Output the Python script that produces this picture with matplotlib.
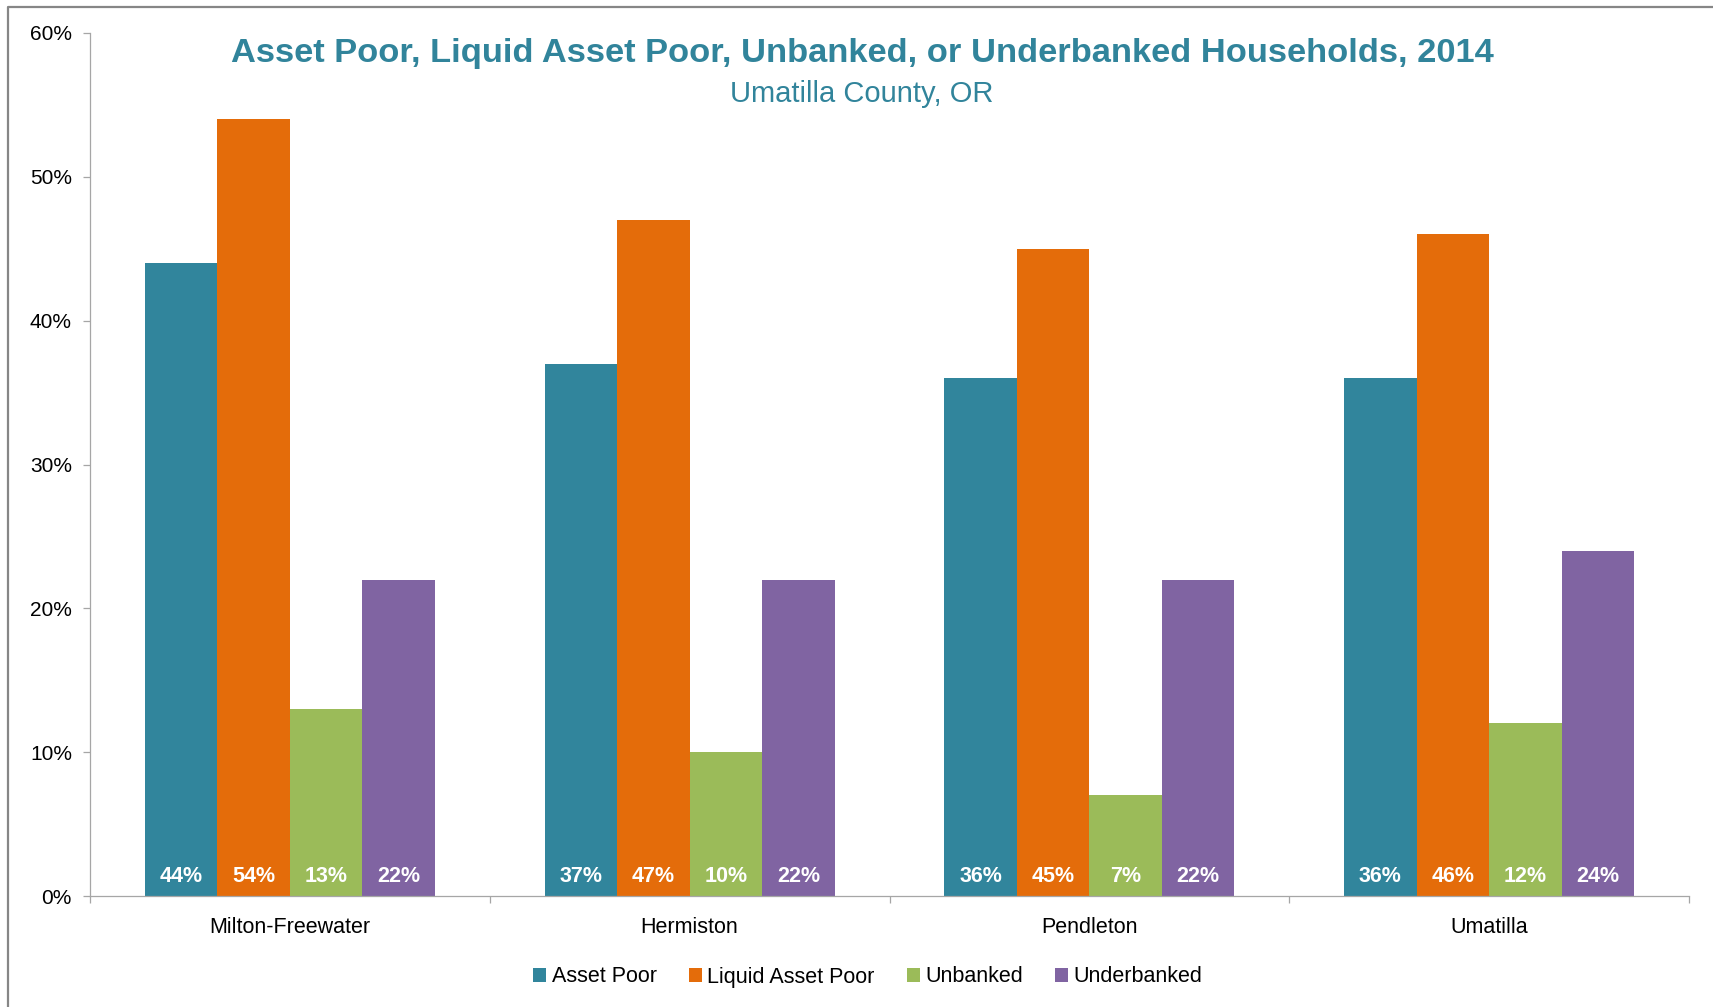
import matplotlib
matplotlib.use("Agg")
import matplotlib.pyplot as plt
from matplotlib.lines import Line2D
from matplotlib.ticker import FixedLocator, PercentFormatter
import numpy as np

# chart data
places = ["Milton-Freewater", "Hermiston", "Pendleton", "Umatilla"]
series = ["Asset Poor", "Liquid Asset Poor", "Unbanked", "Underbanked"]
asset_poor = [44, 37, 36, 36]
liquid_asset_poor = [54, 47, 45, 46]
unbanked = [13, 10, 7, 12]
underbanked = [22, 22, 22, 24]
y_ticks = [0, 10, 20, 30, 40, 50, 60]

title = "Asset Poor, Liquid Asset Poor, Unbanked, or Underbanked Households, 2014"
subtitle = "Umatilla County, OR"

colors = ["#31859C", "#E46C0A", "#9BBB59", "#8064A2"]
title_color = "#31849B"
axis_gray = "#A6A6A6"

plt.rcParams["font.family"] = ["Liberation Sans", "DejaVu Sans"]

W, H = 1713, 1007
fig = plt.figure(figsize=(W / 100, H / 100), dpi=100)
ax = fig.add_axes([90 / W, 1 - 896 / H, (1689 - 90) / W, (896 - 33) / H])

values = [asset_poor, liquid_asset_poor, unbanked, underbanked]
x = np.arange(len(places))
bar_w = 0.1814

for j, (name, vals) in enumerate(zip(series, values)):
    pos = x + (j - 1.5) * bar_w
    ax.bar(pos, vals, width=bar_w, color=colors[j], label=name, linewidth=0)
    for px, v in zip(pos, vals):
        ax.annotate(f"{v}%", (px, 0), xytext=(0, 10), textcoords="offset points",
                    ha="center", va="baseline", color="white",
                    fontsize=15.5, fontweight="bold")

ax.set_xlim(-0.5, len(places) - 0.5)
ax.set_ylim(0, 60)
ax.yaxis.set_major_locator(FixedLocator(y_ticks))
ax.yaxis.set_major_formatter(PercentFormatter(decimals=0))

# category boundary ticks, labels at the centres
ax.xaxis.set_major_locator(FixedLocator(np.arange(-0.5, len(places), 1.0)))
ax.xaxis.set_minor_locator(FixedLocator(x))
ax.set_xticklabels([])
ax.set_xticklabels(places, minor=True)
ax.tick_params(axis="x", which="major", length=5, width=0.9, color=axis_gray,
               direction="out")
ax.tick_params(axis="x", which="minor", length=0, pad=15, labelsize=15.5,
               labelcolor="#000000")
ax.tick_params(axis="y", length=5, width=0.9, color=axis_gray, direction="out",
               pad=8, labelsize=15)

for side in ["top", "right"]:
    ax.spines[side].set_visible(False)
for side in ["left", "bottom"]:
    ax.spines[side].set_color(axis_gray)
    ax.spines[side].set_linewidth(0.9)

fig.text(862 / W, 1 - 62 / H, title, ha="center", va="baseline",
         color=title_color, fontsize=24.8, fontweight="bold")
fig.text(862 / W, 1 - 102 / H, subtitle, ha="center", va="baseline",
         color=title_color, fontsize=21)

fig.legend(loc="center", bbox_to_anchor=(868 / W, 1 - 977 / H), ncol=4,
           frameon=False, fontsize=15.5, handlelength=0.6, handleheight=0.6,
           handletextpad=0.25, columnspacing=1.5)

# outer frame of the original chart (cut off at right and bottom)
fig.add_artist(Line2D([8 / W, 8 / W, 1.0], [0.0, 1 - 7 / H, 1 - 7 / H],
                      transform=fig.transFigure, color="#868686", linewidth=1.6))

fig.savefig("out.png", dpi=100)
